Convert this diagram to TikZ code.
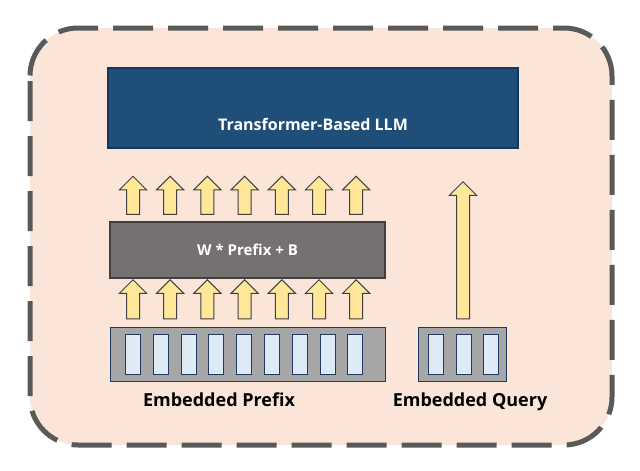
\documentclass[tikz,border=0pt]{standalone}
\usepackage{fontspec}
\setmainfont{Open Sans}
\usetikzlibrary{shapes.arrows}
\definecolor{bgpeach}{HTML}{FAE5D8}
\definecolor{llmblue}{HTML}{1F4E79}
\definecolor{llmedge}{HTML}{16375A}
\definecolor{wgray}{HTML}{767171}
\definecolor{boxgray}{HTML}{A6A6A6}
\definecolor{cellblue}{HTML}{DEEBF7}
\definecolor{celledge}{HTML}{203864}
\definecolor{arrowyel}{HTML}{FFE699}
\tikzset{>=latex}

\begin{document}
\begin{tikzpicture}[x=1pt,y=-1pt,
  blk/.style={single arrow, draw=black!75, fill=arrowyel, line width=1pt, rotate=90,
    inner sep=6pt, single arrow head extend=7pt, single arrow tip angle=90, anchor=center},
  cell/.style={draw=celledge, fill=cellblue, line width=1pt}
]
\useasboundingbox (0,0) rectangle (640,471);

\def\ax{133}
\def\dx{37.2}

% Outer frame
\draw[fill=bgpeach, draw=black!65, line width=5pt, rounded corners=48pt,
  dash pattern=on 40pt off 15pt, dash phase=-5pt] (30,28) rectangle (612,445);

% LLM block
\node[draw=llmedge, fill=llmblue, line width=2pt, minimum width=410pt, minimum height=80pt] (llm) at (313,108) {};
\node[text=white, font=\fontsize{16}{18}\selectfont\bfseries] (llmtext) at (313,124) {Transformer-Based LLM};

% Linear map block
\node[draw=black!75, fill=wgray, line width=2pt, minimum width=275pt, minimum height=56pt,
  text=white, font=\fontsize{15}{18}\selectfont\bfseries] (lin) at (247.5,250) {W * Prefix + B};

% Embedded prefix
\node[draw=celledge, fill=boxgray, line width=1pt, minimum width=275pt, minimum height=54pt] (pre) at (247.5,354) {};
\foreach \i in {0,...,8}{
  \node[cell, minimum width=15pt, minimum height=40pt] (p\i) at (133+27.8*\i,354) {};
}
\node[font=\fontsize{18}{20}\selectfont\bfseries] (pretext) at (219,400) {Embedded Prefix};

% Embedded query
\node[draw=celledge, fill=boxgray, line width=1pt, minimum width=88pt, minimum height=54pt] (qry) at (462,354) {};
\foreach \i in {0,1,2}{
  \node[cell, minimum width=15pt, minimum height=40pt] (q\i) at (436+27.5*\i,354) {};
}
\node[font=\fontsize{18}{20}\selectfont\bfseries] (qrytext) at (470,402) {Embedded Query};

% Arrows
\foreach \i in {0,...,6}{
  \node[blk, minimum height=38pt, minimum width=27pt] (u\i) at (\ax+\dx*\i,198.5) {};
  \node[blk, minimum height=39pt, minimum width=27pt] (d\i) at (\ax+\dx*\i,302.5) {};
}
\node[blk, minimum height=137pt, minimum width=27pt] (qa) at (463,253.5) {};

\end{tikzpicture}
\end{document}
